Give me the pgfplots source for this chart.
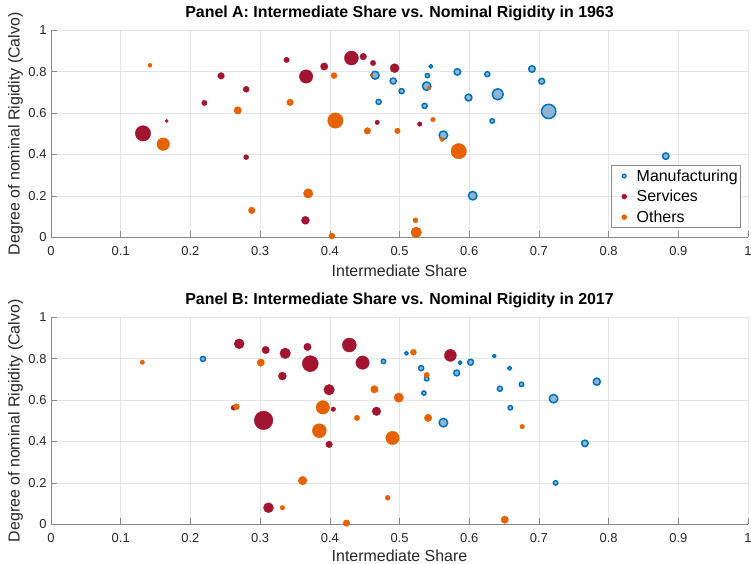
\documentclass[border=0pt]{standalone}
\usepackage{pgfplots}
\pgfplotsset{compat=1.18}
\usepackage{pgfplotstable}
\usepackage{fontspec}
\setmainfont{Liberation Sans}

\definecolor{mfgedge}{RGB}{0,114,189}
\definecolor{mfgface}{RGB}{143,181,210}
\definecolor{svc}{RGB}{162,20,47}
\definecolor{oth}{RGB}{230,98,0}
\definecolor{gridc}{RGB}{228,228,228}
\definecolor{axc}{RGB}{135,135,135}
\definecolor{txt}{RGB}{38,38,38}

% columns: x = intermediate share, y = Calvo rigidity, r = bubble radius (bp)
\pgfplotstableread{
x y r
0.465 0.783 4.7
0.545 0.826 2.6
0.583 0.799 4.0
0.626 0.788 3.3
0.540 0.781 2.9
0.491 0.755 3.8
0.539 0.730 5.0
0.503 0.706 3.3
0.470 0.654 3.3
0.599 0.675 4.2
0.641 0.691 6.3
0.536 0.635 3.3
0.633 0.562 3.0
0.563 0.493 5.0
0.605 0.201 5.0
0.690 0.813 4.0
0.704 0.754 3.7
0.714 0.608 7.9
0.882 0.392 4.0
}\mfgA
\pgfplotstableread{
x y r
0.132 0.502 7.7
0.166 0.562 1.7
0.220 0.649 2.7
0.244 0.780 3.3
0.280 0.715 3.0
0.280 0.387 2.5
0.338 0.857 2.7
0.366 0.777 6.7
0.392 0.825 3.7
0.431 0.866 7.0
0.448 0.873 3.3
0.462 0.842 2.7
0.493 0.817 4.5
0.468 0.555 2.2
0.529 0.547 2.3
0.365 0.082 4.0
}\svcA
\pgfplotstableread{
x y r
0.142 0.831 2.0
0.161 0.450 6.3
0.268 0.613 3.7
0.288 0.130 3.3
0.343 0.652 3.3
0.406 0.781 3.0
0.408 0.564 7.7
0.369 0.212 4.7
0.403 0.006 3.0
0.460 0.783 1.7
0.454 0.514 3.3
0.497 0.514 2.8
0.542 0.722 1.7
0.548 0.569 2.3
0.561 0.473 2.2
0.585 0.416 7.7
0.523 0.082 2.5
0.524 0.024 5.3
}\othA
\pgfplotstableread{
x y r
0.218 0.799 3.3
0.477 0.787 3.0
0.510 0.826 2.5
0.531 0.754 3.3
0.539 0.703 3.0
0.535 0.634 2.9
0.587 0.781 2.5
0.602 0.783 3.7
0.582 0.731 3.7
0.563 0.491 5.0
0.636 0.813 2.4
0.658 0.754 2.7
0.644 0.655 3.3
0.675 0.676 3.0
0.659 0.563 3.0
0.721 0.607 5.0
0.783 0.689 4.3
0.766 0.391 4.0
0.724 0.200 3.0
}\mfgB
\pgfplotstableread{
x y r
0.270 0.872 5.0
0.308 0.842 3.7
0.336 0.826 5.3
0.332 0.716 4.0
0.262 0.563 2.5
0.305 0.502 9.3
0.312 0.080 5.0
0.368 0.857 3.7
0.372 0.776 8.0
0.428 0.866 7.0
0.447 0.781 6.7
0.399 0.650 5.3
0.405 0.556 2.3
0.399 0.386 3.3
0.467 0.546 4.3
0.573 0.816 6.0
}\svcB
\pgfplotstableread{
x y r
0.131 0.783 2.2
0.266 0.568 3.0
0.301 0.781 3.7
0.332 0.080 2.3
0.390 0.565 6.7
0.385 0.452 7.0
0.361 0.211 4.3
0.424 0.006 3.3
0.439 0.514 2.7
0.464 0.652 3.7
0.499 0.612 4.7
0.490 0.417 6.7
0.483 0.128 2.5
0.520 0.831 3.0
0.539 0.721 2.7
0.541 0.514 3.7
0.676 0.472 2.3
0.651 0.022 3.7
}\othB

\pgfplotsset{
  panel/.style={
    scale only axis, width=697bp, height=207bp,
    xmin=0, xmax=1, ymin=0, ymax=1,
    xtick={0,0.1,0.2,0.3,0.4,0.5,0.6,0.7,0.8,0.9,1},
    ytick={0,0.2,0.4,0.6,0.8,1},
    grid=major, major grid style={gridc, line width=0.5bp},
    axis x line*=bottom, axis y line*=left,
    axis line style={axc, line width=0.6bp},
    major tick style={axc, line width=0.6bp},
    tick align=inside, major tick length=6bp,
    ticklabel style={font=\fontsize{13}{13}\selectfont, text=txt},
    xticklabel style={yshift=-6bp},
    yticklabel style={xshift=-1bp},
    /pgf/number format/assume math mode=true,
    clip=false,
    every axis title/.style={at={(axis description cs:0.5,1)}, anchor=center, yshift=17bp,
      font=\bfseries\fontsize{16}{16}\selectfont},
    every axis x label/.style={at={(axis description cs:0.5,0)}, anchor=center, yshift=-34bp,
      font=\fontsize{16}{16}\selectfont, text=txt},
    every axis y label/.style={at={(axis description cs:0,0.5)}, anchor=center,
      xshift=-35.5bp, rotate=90, font=\fontsize{16}{16}\selectfont, text=txt},
    xlabel={Intermediate Share},
    ylabel={Degree of nominal Rigidity (Calvo)},
  },
  bubble/.style={scatter, only marks, mark=*, forget plot,
    scatter/use mapped color={#1},
    visualization depends on={\thisrow{r} \as \rad},
    scatter/@pre marker code/.append style={/tikz/mark size=\rad bp}},
  mfgbubble/.style={scatter, only marks, mark=*, forget plot,
    scatter/use mapped color={draw=mfgedge, fill=mfgface},
    mark options={line width=1.5bp, line join=round},
    visualization depends on={\thisrow{r}-0.75 \as \rad},
    scatter/@pre marker code/.append style={/tikz/mark size=\rad bp}},
}

\begin{document}
\begin{tikzpicture}
\path[use as bounding box] (0,0) rectangle (751bp,564bp);

% Panel A: 1963
\begin{axis}[panel, at={(51bp,326.7bp)}, anchor=south west,
  title={Panel A: Intermediate Share vs. Nominal Rigidity in 1963},
  legend style={at={(axis description cs:0.99,0.045)}, anchor=south east,
    draw=axc, line width=0.6bp, fill=white,
    font=\fontsize{16}{16}\selectfont, text=black,
    inner xsep=1.5bp, inner ysep=2.5bp, row sep=4.5bp,
    nodes={inner sep=1.5bp}},
  legend cell align=left,
  legend image code/.code={\path[draw=none] (0bp,0bp) -- (22bp,0bp);
    \draw[#1] plot coordinates {(11bp,0bp)};},
]
\addlegendimage{only marks, mark=*, mark size=2bp, draw=mfgedge, fill=mfgface, line width=1.1bp}
\addlegendimage{only marks, mark=*, mark size=2.4bp, draw=svc, fill=svc}
\addlegendimage{only marks, mark=*, mark size=2.4bp, draw=oth, fill=oth}
\addplot[mfgbubble] table[x=x, y=y] {\mfgA};
\addplot[bubble={draw=svc, fill=svc}] table[x=x, y=y] {\svcA};
\addplot[bubble={draw=oth, fill=oth}] table[x=x, y=y] {\othA};
\legend{Manufacturing, Services, Others}
\end{axis}

% Panel B: 2017
\begin{axis}[panel, at={(51bp,39.7bp)}, anchor=south west,
  every axis x label/.append style={yshift=2bp},
  title={Panel B: Intermediate Share vs. Nominal Rigidity in 2017},
]
\addplot[mfgbubble] table[x=x, y=y] {\mfgB};
\addplot[bubble={draw=svc, fill=svc}] table[x=x, y=y] {\svcB};
\addplot[bubble={draw=oth, fill=oth}] table[x=x, y=y] {\othB};
\end{axis}
\end{tikzpicture}
\end{document}
